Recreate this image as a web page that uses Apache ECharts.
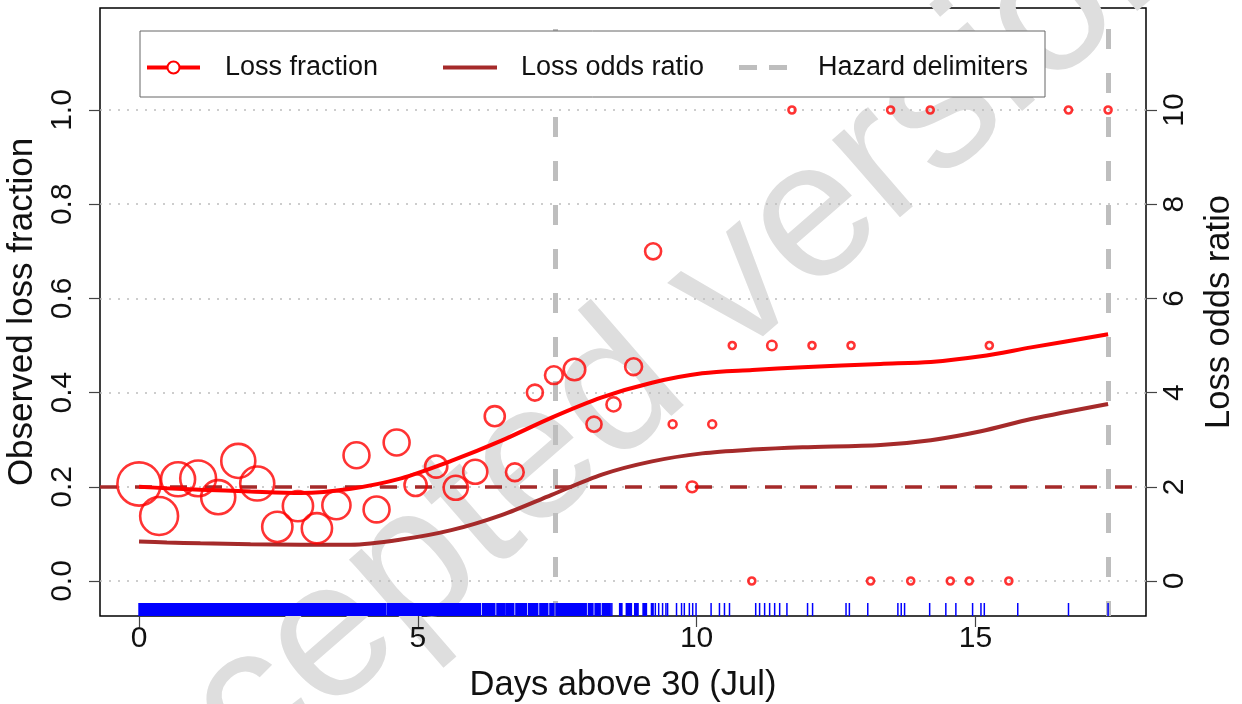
<!DOCTYPE html>
<html>
<head>
<meta charset="utf-8">
<script src="https://cdn.jsdelivr.net/npm/echarts@6/dist/echarts.min.js"></script>
<style>
  html, body { margin: 0; padding: 0; background: #fff; }
  #chart { width: 1242px; height: 704px; }
</style>
</head>
<body>
<div id="chart"></div>
<script>
// observed loss fraction per day bin, with number of observations (circle size)
var obsDays = [0.00, 0.36, 0.70, 1.06, 1.42, 1.78, 2.12, 2.48, 2.85, 3.19, 3.54, 3.90, 4.26, 4.62, 4.96,
               5.33, 5.68, 6.03, 6.38, 6.74, 7.10, 7.44, 7.81, 8.16, 8.51, 8.87, 9.22, 9.57, 9.92, 10.28,
               10.64, 10.99, 11.35, 11.71, 12.07, 12.77, 13.12, 13.48, 13.84, 14.19, 14.55, 14.89, 15.25,
               15.60, 16.67, 17.38];
var obsFrac = [0.206, 0.138, 0.216, 0.218, 0.178, 0.255, 0.207, 0.115, 0.159, 0.112, 0.161, 0.267, 0.152,
               0.294, 0.204, 0.243, 0.198, 0.232, 0.350, 0.231, 0.400, 0.437, 0.449, 0.333, 0.375, 0.455,
               0.700, 0.333, 0.200, 0.333, 0.500, 0.000, 0.500, 1.000, 0.500, 0.500, 0.000, 1.000, 0.000,
               1.000, 0.000, 0.000, 0.500, 0.000, 1.000, 1.000];
var obsN = [63, 49, 40, 44, 40, 40, 40, 32, 32, 32, 28, 24, 24, 24, 18, 18, 21, 21, 15, 12, 10, 12, 17,
            9, 8, 11, 10, 3, 5, 3, 2, 1, 4, 1, 2, 2, 1, 1, 1, 1, 1, 1, 2, 1, 1, 1];

// fitted curves
var fitDays = [0, 0.5, 1.1, 2.0, 2.9, 3.8, 4.7, 5.6, 6.5, 7.4, 8.3, 9.2, 10.1, 11.0, 11.9, 13.3, 14.2, 15.1, 16.0, 17.38];
var fitFrac = [0.200, 0.197, 0.194, 0.190, 0.187, 0.196, 0.218, 0.255, 0.298, 0.347, 0.390, 0.421, 0.441,
               0.448, 0.454, 0.461, 0.465, 0.477, 0.496, 0.524];
var fitOdds = [0.84, 0.82, 0.80, 0.78, 0.77, 0.77, 0.88, 1.08, 1.40, 1.83, 2.26, 2.54, 2.71, 2.79, 2.84,
               2.89, 2.99, 3.18, 3.44, 3.76];

var hazardDays = [7.46, 17.38];
var oddsThreshold = 2;

// rug of observation days: dense stretches as [from, to], then single ticks
var rugSpans = [[0, 4.42], [4.45, 6.12], [6.16, 6.38], [6.42, 6.55], [6.58, 6.72], [6.76, 6.95],
                [6.99, 7.15], [7.19, 7.33], [7.37, 7.44], [7.48, 8.02], [8.06, 8.14], [8.18, 8.27],
                [8.31, 8.45], [8.62, 8.66], [8.74, 8.83], [8.89, 8.95], [9.04, 9.10], [9.19, 9.22]];
var rugTicks = [8.48, 9.26, 9.32, 9.39, 9.45, 9.48, 9.64, 9.73, 9.78, 9.87, 9.93, 9.99, 10.26, 10.41,
                10.50, 10.59, 11.06, 11.13, 11.22, 11.31, 11.40, 11.49, 11.62, 11.99, 12.08, 12.68,
                12.74, 13.07, 13.61, 13.67, 13.73, 14.18, 14.47, 14.65, 14.95, 15.10, 15.16, 15.76,
                16.67, 17.38];

var xTicks = [0, 5, 10, 15];
var fracTicks = [0, 0.2, 0.4, 0.6, 0.8, 1.0];
var oddsTicks = [0, 2, 4, 6, 8, 10];

var FONT = 'Liberation Sans';

var chart = echarts.init(document.getElementById('chart'));

var scatterData = obsDays.map(function (d, i) { return [d, obsFrac[i], obsN[i]]; });
var fracLine = fitDays.map(function (d, i) { return [d, fitFrac[i]]; });
var oddsLine = fitDays.map(function (d, i) { return [d, fitOdds[i]]; });
var rugData = rugSpans.concat(rugTicks.map(function (d) { return [d, d]; }));

var tickStyle = { length: 11, lineStyle: { color: '#444', width: 1.2 } };

var option = {
  animation: false,
  textStyle: { fontFamily: FONT },
  grid: { left: 100, right: 96, top: 8, bottom: 88, show: true, borderColor: '#000', borderWidth: 1.5,
          containLabel: false, outerBoundsMode: 'none' },
  xAxis: {
    type: 'value', min: -0.7, max: 18.06,
    axisLine: { show: false, onZero: false },
    axisTick: Object.assign({ customValues: xTicks }, tickStyle),
    axisLabel: { customValues: xTicks, fontSize: 30, color: '#111', margin: 8, fontFamily: FONT },
    splitLine: { show: false },
    name: 'Days above 30 (Jul)', nameLocation: 'middle', nameGap: 52,
    nameTextStyle: { fontSize: 34.5, color: '#111', fontFamily: FONT }
  },
  yAxis: [{
    type: 'value', min: -0.0743, max: 1.2166,
    axisLine: { show: false, onZero: false },
    axisTick: Object.assign({ customValues: fracTicks }, tickStyle),
    axisLabel: { customValues: fracTicks, rotate: 90, fontSize: 30, color: '#111', margin: 22, fontFamily: FONT,
                 formatter: function (v) { return v.toFixed(1); } },
    splitLine: { show: false },
    name: 'Observed loss fraction', nameLocation: 'middle', nameRotate: 90, nameGap: 57,
    nameTextStyle: { fontSize: 35, color: '#111', fontFamily: FONT }
  }, {
    type: 'value', min: -0.743, max: 12.166, position: 'right',
    axisLine: { show: false, onZero: false },
    axisTick: Object.assign({ customValues: oddsTicks }, tickStyle),
    axisLabel: { customValues: oddsTicks, rotate: 90, fontSize: 30, color: '#111', margin: 14, fontFamily: FONT },
    splitLine: { show: false },
    name: 'Loss odds ratio', nameLocation: 'middle', nameRotate: 90, nameGap: 56,
    nameTextStyle: { fontSize: 34.5, color: '#111', fontFamily: FONT }
  }],
  legend: [{
    data: ['Loss fraction'], left: 145, top: 54, padding: 0, itemWidth: 53, itemHeight: 15, z: 6,
    lineStyle: { width: 4 },
    selectedMode: false, textStyle: { fontSize: 27, color: '#111', padding: [0, 0, 0, 20], fontFamily: FONT }
  }, {
    data: [{ name: 'Loss odds ratio', icon: 'rect' }], left: 443, top: 54, padding: 0, itemWidth: 54, itemHeight: 4, z: 6,
    selectedMode: false, textStyle: { fontSize: 27, color: '#111', padding: [0, 0, 0, 19], fontFamily: FONT }
  }, {
    data: [{ name: 'Hazard delimiters', icon: 'path://M0,0H18V5H0Z M30,0H48V5H30Z' }], left: 739, top: 54, padding: 0,
    itemWidth: 48, itemHeight: 5, z: 6,
    selectedMode: false, textStyle: { fontSize: 27, color: '#111', padding: [0, 0, 0, 26], fontFamily: FONT }
  }],
  graphic: [{
    type: 'text', x: 609, y: 399, rotation: 41 * Math.PI / 180, z: 0, silent: true,
    style: { text: 'Accepted version', fontSize: 195, fontFamily: FONT, fill: '#dedede', align: 'center', verticalAlign: 'middle' }
  }, {
    type: 'rect', z: 5, silent: true,
    shape: { x: 140, y: 31, width: 905, height: 66 },
    style: { fill: '#fff', stroke: '#666', lineWidth: 1 }
  }],
  series: [{
    name: 'Loss fraction', type: 'line', data: fracLine, yAxisIndex: 0, z: 3,
    smooth: 0.3, symbol: 'emptyCircle', showSymbol: false, color: '#ff0000',
    lineStyle: { width: 4, color: '#ff0000' },
    markLine: {
      silent: true, symbol: 'none', z: 1, label: { show: false },
      lineStyle: { type: [2, 7], color: '#bdbdbd', width: 1.5 },
      data: fracTicks.map(function (v) { return { yAxis: v }; })
    }
  }, {
    name: 'Loss odds ratio', type: 'line', data: oddsLine, yAxisIndex: 1, z: 3,
    smooth: 0.3, showSymbol: false, color: '#a52a2a',
    lineStyle: { width: 4, color: '#a52a2a' },
    markLine: {
      silent: true, symbol: 'none', z: 3, label: { show: false },
      lineStyle: { type: [17, 18], color: '#a52a2a', width: 3.5 },
      data: [{ yAxis: oddsThreshold }]
    }
  }, {
    name: 'Hazard delimiters', type: 'line', data: [], yAxisIndex: 0, z: 2,
    color: '#bebebe', lineStyle: { color: '#bebebe', width: 5, type: [20, 24] },
    markLine: {
      silent: true, symbol: 'none', z: 2, label: { show: false },
      lineStyle: { type: [20, 24], dashOffset: 5, color: '#bebebe', width: 5 },
      data: hazardDays.map(function (d) { return { xAxis: d }; })
    }
  }, {
    name: 'Loss fraction', type: 'scatter', data: scatterData, yAxisIndex: 0, z: 4,
    symbol: 'circle',
    symbolSize: function (v) { return 2 * Math.max(4.5, 2.85 * Math.sqrt(v[2])) - 2; },
    itemStyle: { color: 'rgba(0,0,0,0)', borderColor: '#ff0000', borderWidth: 2.6 },
    emphasis: { disabled: true }
  }, {
    name: 'rug', type: 'custom', data: rugData, z: 2, silent: true,
    encode: { x: [0, 1] },
    renderItem: function (params, api) {
      var x0 = api.coord([api.value(0), 0])[0];
      var x1 = api.coord([api.value(1), 0])[0];
      var cs = params.coordSys;
      var bottom = cs.y + cs.height;
      return {
        type: 'rect',
        shape: { x: x0 - 0.75, y: bottom - 13, width: Math.max(x1 - x0, 0) + 1.5, height: 13 },
        style: { fill: '#0000ff' }
      };
    }
  }]
};

chart.setOption(option);
</script>
</body>
</html>
